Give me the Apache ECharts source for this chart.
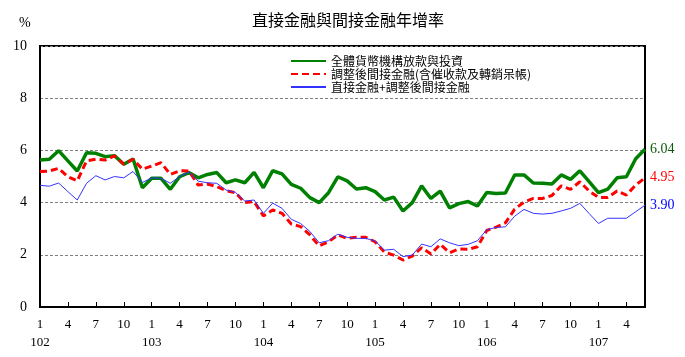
<!DOCTYPE html>
<html><head><meta charset="utf-8">
<script src="https://cdn.jsdelivr.net/npm/echarts@6/dist/echarts.min.js"></script>
<style>html,body{margin:0;padding:0;background:#fff}#c{width:685px;height:357px}</style>
</head><body><div id="c"></div>
<script>
const titleText = '直接金融與間接金融年增率';
const yUnit = '%';
const seriesNames = ['全體貨幣機構放款與投資', '調整後間接金融(含催收款及轉銷呆帳)', '直接金融+調整後間接金融'];
const categories = [
 '102/1','102/2','102/3','102/4','102/5','102/6','102/7','102/8','102/9','102/10','102/11','102/12',
 '103/1','103/2','103/3','103/4','103/5','103/6','103/7','103/8','103/9','103/10','103/11','103/12',
 '104/1','104/2','104/3','104/4','104/5','104/6','104/7','104/8','104/9','104/10','104/11','104/12',
 '105/1','105/2','105/3','105/4','105/5','105/6','105/7','105/8','105/9','105/10','105/11','105/12',
 '106/1','106/2','106/3','106/4','106/5','106/6','106/7','106/8','106/9','106/10','106/11','106/12',
 '107/1','107/2','107/3','107/4','107/5','107/6'];
const totalLoans = [5.63,5.66,5.99,5.60,5.21,5.91,5.89,5.76,5.80,5.47,5.67,4.57,4.93,
 4.93,4.51,4.99,5.15,4.95,5.08,5.15,4.76,4.87,4.76,5.16,4.57,5.22,
 5.10,4.70,4.55,4.19,4.00,4.38,4.99,4.83,4.52,4.57,4.42,4.10,
 4.21,3.68,4.00,4.64,4.16,4.44,3.80,3.96,4.04,3.87,4.39,4.35,4.37,5.06,
 5.06,4.75,4.74,4.71,5.06,4.89,5.22,4.80,4.38,4.52,4.95,4.99,5.68,6.04];
const adjIndirect = [5.19,5.21,5.31,4.99,4.83,5.60,5.66,5.63,5.79,5.47,5.66,5.28,5.40,
 5.53,5.08,5.22,5.21,4.67,4.71,4.61,4.46,4.38,4.00,4.04,3.49,3.72,
 3.59,3.18,3.08,2.76,2.34,2.50,2.76,2.63,2.67,2.67,2.50,2.10,
 1.99,1.80,1.95,2.27,2.03,2.40,2.08,2.22,2.21,2.31,2.93,3.06,3.22,3.75,
 4.02,4.16,4.16,4.27,4.64,4.51,4.80,4.44,4.20,4.20,4.44,4.29,4.67,4.95];
const directPlusIndirect = [4.66,4.63,4.75,4.42,4.10,4.74,5.03,4.87,5.00,4.95,5.19,4.77,4.95,
 4.93,4.74,5.00,5.17,4.82,4.76,4.74,4.48,4.39,4.06,4.10,3.59,3.98,
 3.78,3.36,3.20,2.89,2.46,2.54,2.79,2.67,2.63,2.63,2.53,2.18,
 2.21,1.93,1.99,2.41,2.31,2.61,2.46,2.35,2.40,2.54,2.96,3.05,3.07,3.48,
 3.74,3.59,3.56,3.59,3.68,3.78,3.97,3.58,3.20,3.40,3.40,3.40,3.65,3.90];

const serif = '"Liberation Serif","Times New Roman",serif';
const cjk = '"Noto Sans CJK TC","Noto Sans CJK SC",sans-serif';
const chart = echarts.init(document.getElementById('c'), null, {renderer:'canvas'});
function endLbl(color){
  return {show:true, distance:5, color:color, fontFamily:serif, fontSize:14,
    formatter:p=>{const v=Array.isArray(p.value)?p.value[1]:p.value; return Number(v).toFixed(2);}};
}
chart.setOption({
  animation:false,
  backgroundColor:'#fff',
  title:[
    {text:titleText, left:247, top:7, textStyle:{fontSize:16, fontWeight:'normal', color:'#000', fontFamily:cjk}},
    {text:yUnit, left:14, top:11, textStyle:{fontSize:14, fontWeight:'normal', color:'#000', fontFamily:serif}}
  ],
  legend:{orient:'vertical', left:290, top:55, padding:0, itemWidth:35, itemHeight:12, itemGap:1,
    itemStyle:{opacity:0},
    textStyle:{fontSize:12, lineHeight:12, color:'#000', fontFamily:cjk},
    data:seriesNames},
  grid:{left:40, right:40, top:46, bottom:50, show:true, borderColor:'#000', borderWidth:2, backgroundColor:'#fff'},
  xAxis:{type:'category', data:categories, boundaryGap:false,
    axisLine:{lineStyle:{color:'#000', width:2}},
    axisTick:{show:true, inside:true, length:5, interval:2, lineStyle:{color:'#000'}},
    axisLabel:{interval:2, margin:9, color:'#000', fontFamily:serif, fontSize:13, lineHeight:18,
      formatter:v=>{const p=v.split('/'); return p[1]==='1' ? p[1]+'\n'+p[0] : p[1];}},
    splitLine:{show:false}},
  yAxis:{type:'value', min:0, max:10, interval:2,
    axisLine:{show:true, lineStyle:{color:'#000', width:2}},
    axisTick:{show:false},
    axisLabel:{margin:13, color:'#000', fontFamily:serif, fontSize:14},
    splitLine:{show:true, lineStyle:{color:'#808080', type:[3,2], width:1}}},
  series:[
    {name:seriesNames[0], type:'line', data:totalLoans, symbol:'none', z:3,
      lineStyle:{color:'#008000', width:3.5}, itemStyle:{color:'#008000'}, endLabel:endLbl('#0a5a0a')},
    {name:seriesNames[1], type:'line', data:adjIndirect, symbol:'none', z:4,
      lineStyle:{color:'#ff0000', width:3, type:[7,4]}, itemStyle:{color:'#ff0000'}, endLabel:endLbl('#ff0000')},
    {name:seriesNames[2], type:'line', data:directPlusIndirect, symbol:'none', z:5,
      lineStyle:{color:'#3333ff', width:1}, itemStyle:{color:'#3333ff'}, endLabel:endLbl('#0000ff')}
  ]
});
</script></body></html>
